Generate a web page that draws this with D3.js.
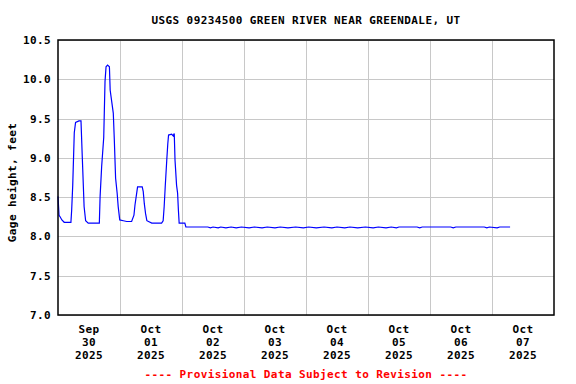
<!DOCTYPE html>
<html>
<head>
<meta charset="utf-8">
<script src="https://cdn.jsdelivr.net/npm/d3@7"></script>
<style>
  body { margin: 0; background: #fff; }
  text { font-family: "DejaVu Sans Mono", "Liberation Mono", monospace; font-weight: bold; }
</style>
</head>
<body>
<svg width="576" height="384"></svg>
<script>
// Gage height readings, hours after Sep 30 2025 00:00
const hours = [
  0, 0.4, 0.8, 1.5, 2.4, 5.0, 5.3, 5.7, 6.3, 6.8, 8.1, 8.9, 9.4, 10.1, 10.7, 11.7,
  16.0, 16.3, 16.9, 17.7, 18.2, 18.6, 19.2, 19.9, 20.2, 21.4, 21.8, 22.3, 22.9, 23.3, 23.9,
  25.3, 26.6, 28.5, 29.4, 29.8, 30.5, 30.8, 32.6, 33.0, 33.4, 33.9, 34.4, 36.3,
  40.1, 40.7, 41.1, 41.5, 42.1, 42.5, 42.8, 44.0, 44.6, 45.0, 45.3, 45.9, 46.3, 46.6, 46.9,
  49.1, 49.5, 58, 59, 60, 62, 63, 65, 67, 69, 71, 74, 76, 79, 81, 84, 86, 89, 92, 95, 97,
  100, 103, 106, 108, 111, 113, 116, 119, 122, 124, 127, 129, 131, 132, 139, 140, 141,
  152, 153, 154, 165, 166, 167, 170, 171, 175
];
const gageHeight = [
  8.51, 8.27, 8.25, 8.21, 8.18, 8.18, 8.34, 8.65, 9.32, 9.45, 9.47, 9.47, 9.01, 8.38, 8.20, 8.17,
  8.17, 8.51, 8.89, 9.26, 9.97, 10.16, 10.18, 10.16, 9.86, 9.57, 9.23, 8.74, 8.55, 8.38, 8.21,
  8.20, 8.19, 8.19, 8.27, 8.40, 8.56, 8.63, 8.63, 8.57, 8.42, 8.29, 8.20, 8.17,
  8.17, 8.20, 8.38, 8.63, 8.97, 9.18, 9.29, 9.30, 9.28, 9.31, 8.97, 8.65, 8.55, 8.34, 8.17,
  8.17, 8.12, 8.12, 8.11, 8.12, 8.11, 8.12, 8.11, 8.12, 8.11, 8.12, 8.11, 8.12, 8.11, 8.12, 8.11, 8.12, 8.11, 8.12, 8.11, 8.12,
  8.11, 8.12, 8.11, 8.12, 8.11, 8.12, 8.11, 8.12, 8.11, 8.12, 8.11, 8.12, 8.11, 8.12, 8.12, 8.11, 8.12,
  8.12, 8.11, 8.12, 8.12, 8.11, 8.12, 8.11, 8.12, 8.12
];

// Axis labels
const yTicks = [7.0, 7.5, 8.0, 8.5, 9.0, 9.5, 10.0, 10.5];
const xMonths = ["Sep", "Oct", "Oct", "Oct", "Oct", "Oct", "Oct", "Oct"];
const xDays = ["30", "01", "02", "03", "04", "05", "06", "07"];
const xYears = ["2025", "2025", "2025", "2025", "2025", "2025", "2025", "2025"];

const title = "USGS 09234500 GREEN RIVER NEAR GREENDALE, UT";
const yTitle = "Gage height, feet";
const footer = "---- Provisional Data Subject to Revision ----";

const start = new Date(2025, 8, 30);
const end = new Date(2025, 9, 8);
const hourToDate = h => new Date(start.getTime() + h * 3600 * 1000);

const data = hours.map((h, i) => ({ t: hourToDate(h), v: gageHeight[i] }));

const pLeft = 58, pRight = 554, pTop = 40, pBottom = 315;

let x = d3.scaleTime().domain([start, end]).range([pLeft, pRight]);
let y = d3.scaleLinear().domain([7, 10.5]).range([pBottom, pTop]);

let svg = d3.select("svg");

// Gridlines
svg.append("g")
  .selectAll("line")
  .data(yTicks)
  .enter()
  .append("line")
  .attr("x1", pLeft).attr("x2", pRight)
  .attr("y1", d => Math.round(y(d)) + 0.5)
  .attr("y2", d => Math.round(y(d)) + 0.5)
  .style("stroke", "#c8c8c8");

svg.append("g")
  .selectAll("line")
  .data(d3.timeDay.range(d3.timeDay.offset(start, 1), end))
  .enter()
  .append("line")
  .attr("x1", d => Math.round(x(d)) + 0.5)
  .attr("x2", d => Math.round(x(d)) + 0.5)
  .attr("y1", pTop).attr("y2", pBottom)
  .style("stroke", "#c8c8c8");

// Y axis labels
let yAxis = d3.axisLeft(y).tickValues(yTicks).tickFormat(d3.format(".1f")).tickSize(0).tickPadding(7);
let yg = svg.append("g")
  .attr("transform", `translate(${pLeft}, 0)`)
  .call(yAxis);
yg.select(".domain").remove();
yg.selectAll("text")
  .style("font-family", "DejaVu Sans Mono")
  .style("font-weight", "bold")
  .style("font-size", "11px")
  .style("letter-spacing", "0.4px")
  .style("fill", "#000");

// X axis labels at noon of each day
let noon = xDays.map((d, i) => d3.timeHour.offset(d3.timeDay.offset(start, i), 12));
let xl = svg.append("g")
  .selectAll("text")
  .data(noon)
  .enter()
  .append("text")
  .attr("x", d => x(d))
  .attr("y", 333)
  .attr("text-anchor", "middle")
  .style("font-size", "11px")
  .style("letter-spacing", "0.4px");
xl.append("tspan").attr("x", d => x(d)).attr("dy", 0).text((d, i) => xMonths[i]);
xl.append("tspan").attr("x", d => x(d)).attr("dy", 13).text((d, i) => xDays[i]);
xl.append("tspan").attr("x", d => x(d)).attr("dy", 13).text((d, i) => xYears[i]);

// Data line
let line = d3.line()
  .x(d => x(d.t))
  .y(d => y(d.v));

svg.append("path")
  .datum(data)
  .attr("d", line)
  .style("fill", "none")
  .style("stroke", "#0000ff")
  .style("stroke-width", 1.2);

// Plot frame
svg.append("rect")
  .attr("x", pLeft).attr("y", pTop)
  .attr("width", pRight - pLeft).attr("height", pBottom - pTop)
  .style("fill", "none")
  .style("stroke", "#000")
  .style("stroke-width", 1.5);

// Titles
svg.append("text")
  .attr("x", (pLeft + pRight) / 2)
  .attr("y", 24)
  .attr("text-anchor", "middle")
  .style("font-size", "11px")
  .style("letter-spacing", "0.4px")
  .text(title);

svg.append("text")
  .attr("transform", `translate(16, ${(pTop + pBottom) / 2 + 5}) rotate(-90)`)
  .attr("text-anchor", "middle")
  .style("font-size", "11px")
  .style("letter-spacing", "0.4px")
  .text(yTitle);

svg.append("text")
  .attr("x", (pLeft + pRight) / 2)
  .attr("y", 378)
  .attr("text-anchor", "middle")
  .style("font-size", "11px")
  .style("letter-spacing", "0.4px")
  .style("fill", "#ff0000")
  .text(footer);
</script>
</body>
</html>
